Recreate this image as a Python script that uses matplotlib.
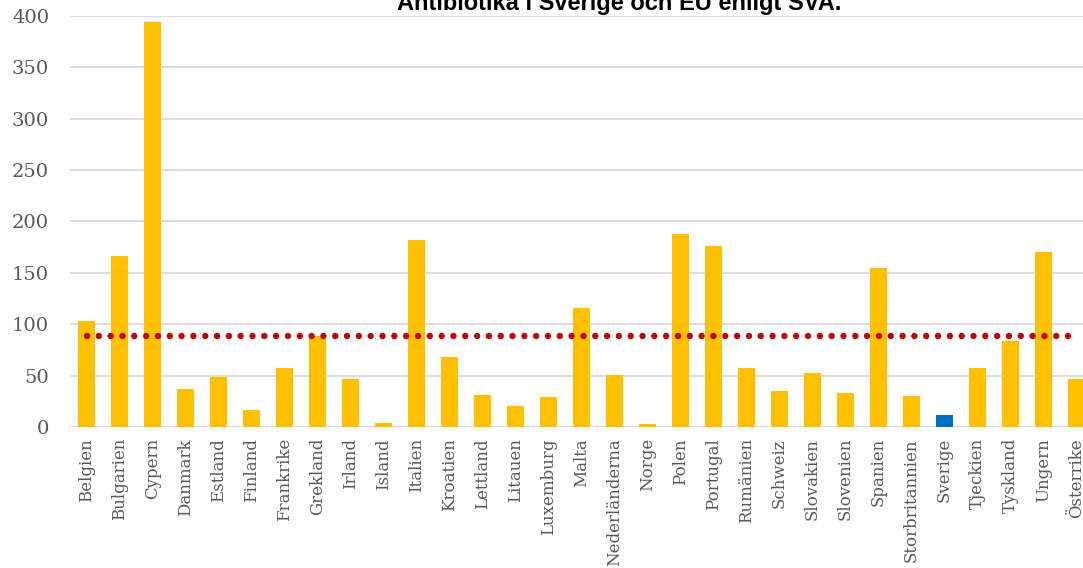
import numpy as np
import matplotlib
matplotlib.use('Agg')
from matplotlib import pyplot as plt

# försäljning av antibiotika per land
lander = ['Belgien', 'Bulgarien', 'Cypern', 'Danmark', 'Estland', 'Finland',
          'Frankrike', 'Grekland', 'Irland', 'Island', 'Italien', 'Kroatien',
          'Lettland', 'Litauen', 'Luxemburg', 'Malta', 'Nederländerna', 'Norge',
          'Polen', 'Portugal', 'Rumänien', 'Schweiz', 'Slovakien', 'Slovenien',
          'Spanien', 'Storbritannien', 'Sverige', 'Tjeckien', 'Tyskland',
          'Ungern', 'Österrike']
varden = [103, 166, 394, 37, 49, 16.5, 57, 89, 47, 4, 182, 68, 31, 20.5, 29,
          116, 50.5, 2.5, 188, 176, 57.5, 35, 52.5, 33.5, 155, 30.5, 11.5, 57,
          84, 170, 46.5]
eu_snitt = 89
yticks = [0, 50, 100, 150, 200, 250, 300, 350, 400]

gul = '#FFC000'
bla = '#0070C0'
farger = [bla if l == 'Sverige' else gul for l in lander]

fig = plt.figure(figsize=(10.83, 5.68), dpi=100)
# axeln går ut utanför bilden till höger, som i originalet
ax = fig.add_axes([70 / 1083, 141 / 568, 1023 / 1083, 411 / 568])

x = np.arange(len(lander))
ax.bar(x, varden, width=0.5, color=farger, zorder=2)
ax.plot([x[0], x[-1]], [eu_snitt, eu_snitt], color='#C00000', lw=4.6,
        linestyle=(0, (0.01, 1.84)), dash_capstyle='round', zorder=3)

ax.set_xlim(-0.5, len(lander) - 0.5)
ax.set_ylim(0, 400)
ax.set_yticks(yticks)
ax.yaxis.grid(True, color='#D9D9D9', lw=1.3, zorder=0)
ax.set_axisbelow(True)
for s in ax.spines.values():
    s.set_visible(False)

ax.set_xticks(x)
ax.set_xticklabels(lander, rotation=90, family='DejaVu Serif', fontsize=12,
                   color='#595959')
ax.tick_params(axis='x', length=0, pad=8)
ax.tick_params(axis='y', length=0, pad=15, labelsize=14, labelcolor='#595959')
for t in ax.get_yticklabels():
    t.set_family('DejaVu Serif')

fig.text(397 / 1083, (568 - 10) / 568, 'Antibiotika i Sverige och EU enligt SVA.',
         family='Liberation Sans', weight='bold', fontsize=17, ha='left',
         va='baseline', color='black')

fig.savefig('out.png', dpi=100)
